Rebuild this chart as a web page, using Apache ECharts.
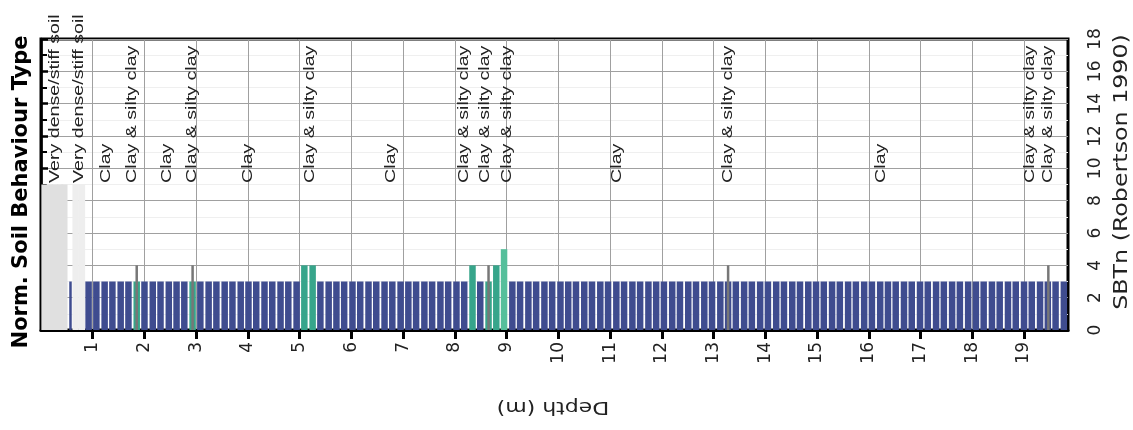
<!DOCTYPE html>
<html><head><meta charset="utf-8">
<script src="https://cdn.jsdelivr.net/npm/echarts@6/dist/echarts.min.js"></script>
<style>html,body{margin:0;padding:0;background:#fff}#c{width:1133px;height:430px}</style>
</head><body><div id="c"></div>
<script>
// Depth (m) of each sampled bar
const depths = [
  0.07, 0.17, 0.27, 0.37, 0.45, 0.67, 0.79,
  0.92, 1.07, 1.23, 1.38, 1.54, 1.69, 1.85, 2.00, 2.16, 2.31,
  2.47, 2.62, 2.77, 2.93, 3.08, 3.24, 3.39, 3.55, 3.70, 3.86,
  4.01, 4.16, 4.32, 4.47, 4.63, 4.78, 4.94, 5.09, 5.25, 5.40,
  5.56, 5.71, 5.86, 6.02, 6.17, 6.33, 6.48, 6.64, 6.79, 6.95,
  7.10, 7.25, 7.41, 7.56, 7.72, 7.87, 8.03, 8.18, 8.34, 8.49,
  8.65, 8.80, 8.95, 9.11, 9.26, 9.42, 9.57, 9.73, 9.88, 10.04,
  10.19, 10.34, 10.50, 10.65, 10.81, 10.96, 11.12, 11.27, 11.43, 11.58,
  11.74, 11.89, 12.04, 12.20, 12.35, 12.51, 12.66, 12.82, 12.97, 13.13,
  13.28, 13.43, 13.59, 13.74, 13.90, 14.05, 14.21, 14.36, 14.52, 14.67,
  14.83, 14.98, 15.13, 15.29, 15.44, 15.60, 15.75, 15.91, 16.06, 16.22,
  16.37, 16.52, 16.68, 16.83, 16.99, 17.14, 17.30, 17.45, 17.61, 17.76,
  17.92, 18.07, 18.22, 18.38, 18.53, 18.69, 18.84, 19.00, 19.15, 19.31,
  19.46, 19.61, 19.77
];
// SBTn value (bar height) of each bar
const sbtn = [
  9, 9, 9, 9, 9, 9, 9,
  3, 3, 3, 3, 3, 3, 3, 3, 3, 3,
  3, 3, 3, 3, 3, 3, 3, 3, 3, 3,
  3, 3, 3, 3, 3, 3, 3, 4, 4, 3,
  3, 3, 3, 3, 3, 3, 3, 3, 3, 3,
  3, 3, 3, 3, 3, 3, 3, 3, 4, 3,
  3, 4, 5, 3, 3, 3, 3, 3, 3, 3,
  3, 3, 3, 3, 3, 3, 3, 3, 3, 3,
  3, 3, 3, 3, 3, 3, 3, 3, 3, 3,
  3, 3, 3, 3, 3, 3, 3, 3, 3, 3,
  3, 3, 3, 3, 3, 3, 3, 3, 3, 3,
  3, 3, 3, 3, 3, 3, 3, 3, 3, 3,
  3, 3, 3, 3, 3, 3, 3, 3, 3, 3,
  3, 3, 3
];
// Soil zone of each bar (drives the colour)
const zone = [
  9, 9, 9, 9, 9, 8, 8,
  3, 3, 3, 3, 3, 3, 4, 3, 3, 3,
  3, 3, 3, 4, 3, 3, 3, 3, 3, 3,
  3, 3, 3, 3, 3, 3, 3, 4, 4, 3,
  3, 3, 3, 3, 3, 3, 3, 3, 3, 3,
  3, 3, 3, 3, 3, 3, 3, 3, 4, 3,
  4, 4, 5, 3, 3, 3, 3, 3, 3, 3,
  3, 3, 3, 3, 3, 3, 3, 3, 3, 3,
  3, 3, 3, 3, 3, 3, 3, 3, 3, 3,
  3, 3, 3, 3, 3, 3, 3, 3, 3, 3,
  3, 3, 3, 3, 3, 3, 3, 3, 3, 3,
  3, 3, 3, 3, 3, 3, 3, 3, 3, 3,
  3, 3, 3, 3, 3, 3, 3, 3, 3, 3,
  3, 3, 3
];
// Thin (short interval) readings
const thinDepths = [0.57, 1.85, 2.93, 8.65, 13.28, 19.47];
const thinValues = [3, 4, 4, 4, 4, 4];
const thinZone = [3, 4, 4, 4, 4, 4];
// Layer annotations
const layerDepths = [0.27, 0.73, 1.25, 1.77, 2.43, 2.93, 4.00, 5.20, 6.76, 8.18, 8.58, 9.01, 11.14, 13.28, 16.24, 19.12, 19.47];
const layerNames = ["Very dense/stiff soil", "Very dense/stiff soil", "Clay", "Clay & silty clay", "Clay", "Clay & silty clay", "Clay", "Clay & silty clay", "Clay", "Clay & silty clay", "Clay & silty clay", "Clay & silty clay", "Clay", "Clay & silty clay", "Clay", "Clay & silty clay", "Clay & silty clay"];
const depthTicks = [1, 2, 3, 4, 5, 6, 7, 8, 9, 10, 11, 12, 13, 14, 15, 16, 17, 18, 19];

const zoneColors = {3: '#3f4c8f', 4: '#37a58b', 5: '#55bf9b', 8: '#eeeeee', 9: '#e0e0e0'};
const thinColors = {3: '#3f4c8f', 4: '#777777'};
const X_MAX = 19.85;
const LABEL_Y = 9.1;

const chart = echarts.init(document.getElementById('c'), null, {renderer: 'canvas'});
chart.setOption({
  animation: false,
  backgroundColor: '#fff',
  grid: {left: 41, right: 65, top: 39, bottom: 100, show: true, borderColor: '#000', borderWidth: 3, backgroundColor: 'transparent'},
  xAxis: [
    {type: 'value', min: 0, max: X_MAX, interval: 1,
     axisLine: {show: true, onZero: false, lineStyle: {color: '#000', width: 3}},
     axisTick: {show: true, customValues: depthTicks, length: 9, lineStyle: {color: '#000', width: 3}},
     axisLabel: {customValues: depthTicks, rotate: 90, margin: 12, fontFamily: 'DejaVu Sans', fontSize: 17, color: '#222'},
     splitLine: {show: true, lineStyle: {color: '#a0a0a0', width: 1}}},
    {type: 'value', min: 0, max: X_MAX, show: false}
  ],
  yAxis: {type: 'value', position: 'right', min: 0, max: 18, interval: 2,
    axisLine: {show: true, lineStyle: {color: '#000', width: 2.5}},
    axisTick: {show: true, length: 7, lineStyle: {color: '#000', width: 2.5}},
    minorTick: {show: true, splitNumber: 2, length: 6, lineStyle: {color: '#000', width: 2}},
    axisLabel: {rotate: 90, margin: 19, fontFamily: 'DejaVu Sans', fontSize: 17, color: '#222'},
    splitLine: {show: true, lineStyle: {color: '#a0a0a0', width: 1}},
    minorSplitLine: {show: true, lineStyle: {color: '#efefef', width: 1}}},
  graphic: [
    {type: 'text', x: 22, y: 192, rotation: Math.PI / 2, scaleX: 1.0,
     style: {text: 'Norm. Soil Behaviour Type', fontFamily: 'DejaVu Sans', fontWeight: 'bold', fontSize: 21, fill: '#000', align: 'center', verticalAlign: 'middle'}},
    {type: 'text', x: 553, y: 407, rotation: Math.PI, scaleX: 1.22,
     style: {text: 'Depth (m)', fontFamily: 'DejaVu Sans', fontSize: 18, fill: '#222', align: 'center', verticalAlign: 'middle'}},
    {type: 'text', x: 1122, y: 172, rotation: Math.PI / 2, scaleX: 1.25,
     style: {text: 'SBTn (Robertson 1990)', fontFamily: 'DejaVu Sans', fontSize: 19, fill: '#222', align: 'center', verticalAlign: 'middle'}}
  ],
  series: [
    {type: 'bar', xAxisIndex: 0, yAxisIndex: 0, barWidth: 6.5,
     data: depths.map((d, i) => ({value: [d, sbtn[i]], itemStyle: {color: zoneColors[zone[i]]}}))},
    {type: 'bar', xAxisIndex: 1, yAxisIndex: 0, barWidth: 2.5, z: 3,
     data: thinDepths.map((d, i) => ({value: [d, thinValues[i]], itemStyle: {color: thinColors[thinZone[i]]}}))},
    {type: 'custom', xAxisIndex: 0, yAxisIndex: 0, clip: false, z: 5, silent: true,
     data: layerDepths.map(d => [d, LABEL_Y]),
     renderItem: function (params, api) {
       const p = api.coord([api.value(0), api.value(1)]);
       return {type: 'text', x: p[0], y: p[1], rotation: Math.PI / 2, scaleX: 1.4,
         style: {text: layerNames[params.dataIndex], fontFamily: 'Liberation Sans', fontSize: 14, fill: '#222', align: 'left', verticalAlign: 'middle'}};
     }}
  ]
});
</script>
</body></html>
